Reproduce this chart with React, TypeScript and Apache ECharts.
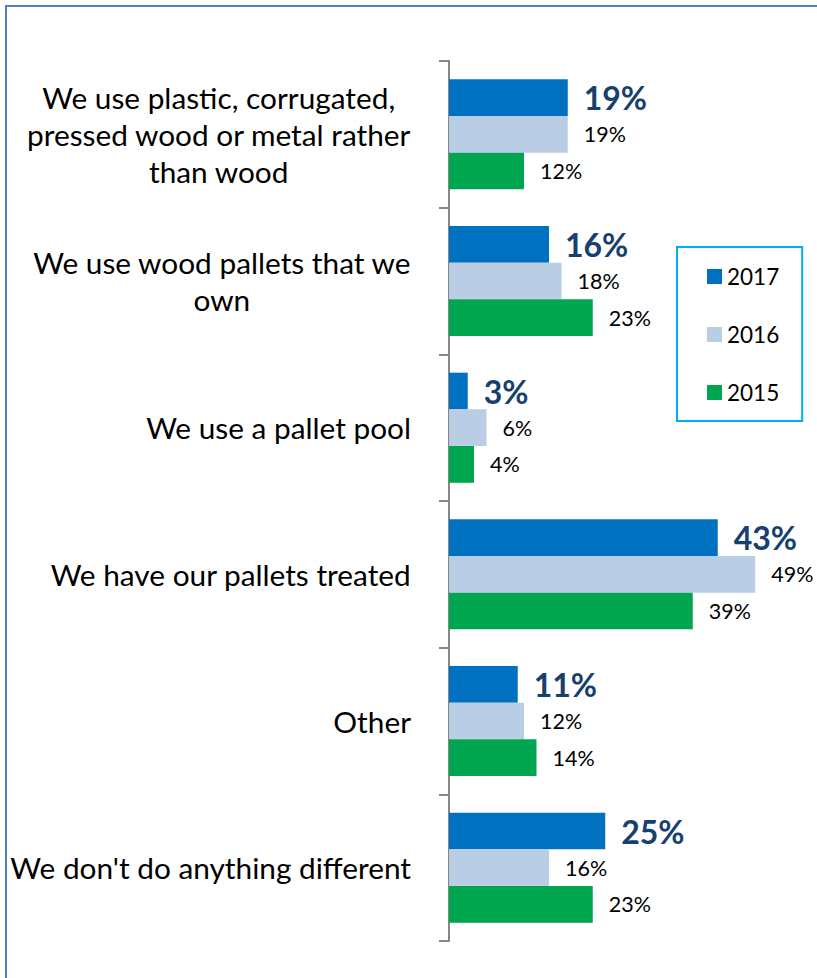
import React, { useEffect, useRef } from "react";
import * as echarts from "echarts";

const categories = [
  "We use plastic, corrugated,\npressed wood or metal rather\nthan wood",
  "We use wood pallets that we\nown",
  "We use a pallet pool",
  "We have our pallets treated",
  "Other",
  "We don't do anything different",
];
const years = ["2017", "2016", "2015"];
const values2017 = [19, 16, 3, 43, 11, 25];
const values2016 = [19, 18, 6, 49, 12, 16];
const values2015 = [12, 23, 4, 39, 14, 23];

const FONT = "Lato";

export default function App() {
  const ref = useRef<HTMLDivElement>(null);
  useEffect(() => {
    if (!ref.current) return;
    const chart = echarts.init(ref.current, undefined, { renderer: "svg" });
    const smallLabel = {
      show: true,
      position: "right",
      distance: 16,
      formatter: "{c}%",
      fontFamily: FONT,
      fontSize: 21.5,
      color: "#000000",
    };
    chart.setOption({
      animation: false,
      backgroundColor: "#ffffff",
      graphic: [
        {
          type: "rect",
          shape: { x: 6, y: 6, width: 900, height: 1100 },
          style: { fill: "none", stroke: "#4f81bd", lineWidth: 2 },
          silent: true,
        },
      ],
      legend: {
        orient: "vertical",
        left: 677,
        top: 247,
        data: years,
        icon: "rect",
        itemWidth: 15,
        itemHeight: 15,
        itemGap: 35,
        padding: [18, 23, 17, 30],
        borderColor: "#00b0f0",
        borderWidth: 2,
        textStyle: { fontFamily: FONT, fontSize: 22.5, lineHeight: 22, color: "#000000" },
      },
      grid: { left: 449, top: 61, width: 312.5, height: 880, containLabel: false },
      xAxis: {
        type: "value",
        min: 0,
        max: 50,
        show: false,
      },
      yAxis: {
        type: "category",
        data: categories,
        inverse: true,
        axisLine: { show: true, lineStyle: { color: "#868686", width: 2 } },
        axisTick: { show: true, length: 10, lineStyle: { color: "#868686", width: 2 } },
        axisLabel: {
          margin: 38,
          align: "right",
          formatter: (v: string) =>
            v
              .split("\n")
              .map((l) => `{c|${l}}`)
              .join("\n"),
          rich: {
            c: {
              align: "center",
              fontFamily: FONT,
              fontSize: 29.8,
              lineHeight: 37,
              color: "#000000",
            },
          },
        },
        splitLine: { show: false },
      },
      series: [
        {
          name: "2017",
          type: "bar",
          data: values2017,
          barGap: "0%",
          barCategoryGap: "25%",
          itemStyle: { color: "#0070c0" },
          label: {
            show: true,
            position: "right",
            distance: 16,
            formatter: "{c}%",
            fontFamily: FONT,
            fontSize: 32,
            fontWeight: "bold",
            color: "#17406f",
          },
        },
        {
          name: "2016",
          type: "bar",
          data: values2016,
          barGap: "0%",
          barCategoryGap: "25%",
          itemStyle: { color: "#b9cde5" },
          label: smallLabel,
        },
        {
          name: "2015",
          type: "bar",
          data: values2015,
          barGap: "0%",
          barCategoryGap: "25%",
          itemStyle: { color: "#00a550" },
          label: smallLabel,
        },
      ],
    });
    return () => chart.dispose();
  }, []);
  return (
    <div
      ref={ref}
      style={{ position: "absolute", left: 0, top: 0, width: 817, height: 978 }}
    />
  );
}
